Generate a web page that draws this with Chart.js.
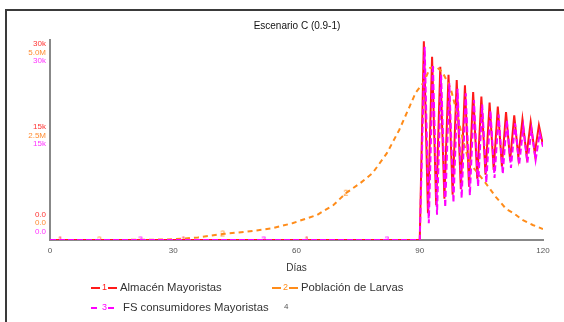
<!DOCTYPE html>
<html>
<head>
<meta charset="utf-8">
<script src="https://cdn.jsdelivr.net/npm/chart.js@4"></script>
<style>
  body { margin: 0; background: #fff; font-family: "Liberation Sans", Arial, sans-serif; }
  #wrap { position: relative; width: 564px; height: 322px; overflow: hidden; }
  #frame { position: absolute; left: 5px; top: 9px; width: 700px; height: 400px;
           border-left: 2px solid #3a3a3a; border-top: 2px solid #3a3a3a; }
  canvas { position: absolute; left: 0; top: 0; }
  #title { position: absolute; left: 197px; width: 200px; top: 20px; text-align: center;
           font-size: 10px; color: #111; }
  .leg { position: absolute; font-size: 11.3px; color: #333; white-space: nowrap; line-height: 14px; }
  .sym { display: inline-block; width: 26px; position: relative; height: 14px; vertical-align: top; margin-right: 3px; }
  .sym i { position: absolute; top: 7px; height: 0; width: 9px; }
  .sym b { position: absolute; left: 11px; top: 0; font-weight: normal; font-size: 9px; }
</style>
</head>
<body>
<div id="wrap">
  <div id="frame"></div>
  <canvas id="chart" width="564" height="322"></canvas>
  <div id="title">Escenario C (0.9-1)</div>
  <div class="leg" style="left:91px; top:280px;">
    <span class="sym"><i style="left:0;border-top:2px solid #ff1a1a"></i><b style="color:#ff1a1a">1</b><i style="left:17px;border-top:2px solid #ff1a1a"></i></span>Almacén Mayoristas</div>
  <div class="leg" style="left:272px; top:280px;">
    <span class="sym"><i style="left:0;border-top:2px dashed #ff8c1a"></i><b style="color:#ff8c1a">2</b><i style="left:17px;border-top:2px dashed #ff8c1a"></i></span>Población de Larvas</div>
  <div class="leg" style="left:91px; top:300px;">
    <span class="sym" style="margin-right:6px"><i style="left:0;width:6px;border-top:2px solid #ff00ff"></i><b style="color:#ff00ff">3</b><i style="left:17px;width:6px;border-top:2px solid #ff00ff"></i></span>FS consumidores Mayoristas</div>
  <div class="leg" style="left:284px; top:300px; font-size:8px; color:#555;">4</div>
</div>
<script>
// dias de simulacion y valores
const almacenDias = [0, 2.5, 32.5, 62.5, 90, 91, 92, 93, 94, 95, 96, 97, 98, 99, 100, 101, 102, 103, 104,
  105, 106, 107, 108, 109, 110, 111, 112, 113, 114, 115, 116, 117, 118, 119, 120];
const almacen = [0, 0, 0, 0, 0, 29800, 4000, 27500, 5200, 26000, 6200, 24800, 6800, 24000, 7600, 23200, 8000,
  22200, 9200, 21500, 9800, 20600, 10500, 20000, 11000, 19200, 11900, 18700, 12400, 18100, 12700, 17700,
  13000, 17200, 14200];

const larvasDias = [0, 12, 24, 30, 36, 42, 48, 54, 59, 65, 69, 72, 75.5, 78.5, 82, 85, 87.5, 89, 91, 92.5,
  94, 95.5, 97.5, 99, 100.5, 102, 103.5, 106, 108.5, 111, 113, 115, 117.5, 120];
const larvas = [0, 0, 5000, 17000, 65000, 150000, 210000, 290000, 420000, 625000, 875000, 1170000, 1420000,
  1670000, 2170000, 2750000, 3330000, 3680000, 3950000, 4300000, 4330000, 4200000, 3800000, 3200000,
  2500000, 1950000, 1750000, 1430000, 1080000, 780000, 660000, 500000, 375000, 275000];

const fsDias = [0, 22, 52, 82, 90, 91.2, 92.2, 93.2, 94.2, 95.2, 96.2, 97.2, 98.2, 99.2, 100.2, 101.2, 102.2,
  103.2, 104.2, 105.2, 106.2, 107.2, 108.2, 109.2, 110.2, 111.2, 112.2, 113.2, 114.2, 115.2, 116.2, 117.2,
  118.2, 119.2, 120];
const fsConsumidores = [0, 0, 0, 0, 0, 29000, 2500, 26300, 3800, 24800, 4900, 23500, 5600, 22700, 6300, 22000,
  6700, 21000, 8000, 20300, 8600, 19400, 9300, 18800, 9900, 18000, 10800, 17500, 11300, 16900, 11600, 16500,
  12000, 16000, 14000];

// dias donde Vensim pone el numero de la serie
const marcas1 = [2.5, 32.5, 62.5];
const marcas2 = [12, 42, 72, 102];
const marcas3 = [22, 52, 82];

const ticksAlmacen = ['0.0', '15k', '30k'];
const ticksLarvas = ['0.0', '2.5M', '5.0M'];
const ticksFS = ['0.0', '15k', '30k'];

const rojo = '#ff1a1a', naranja = '#ff8c1a', magenta = '#ff00ff';

function digito(d, color) {
    const c = document.createElement('canvas');
    c.width = 8; c.height = 11;
    const g = c.getContext('2d');
    g.fillStyle = color;
    g.font = '9px "Liberation Sans", Arial';
    g.textAlign = 'center';
    g.textBaseline = 'middle';
    g.fillText(d, 4, 5.5);
    return c;
}

function puntos(dias, vals) {
    return dias.map((d, i) => ({x: d, y: vals[i]}));
}

// apila las etiquetas de los tres ejes como en Vensim
function apilar(texto, off) {
    const lines = [];
    if (off >= 0) {
        const n = Math.round(2 * off + 1);
        for (let i = 0; i < n - 1; i++) lines.push('');
        lines.push(texto);
    } else {
        const n = Math.round(1 - 2 * off);
        lines.push(texto);
        for (let i = 0; i < n - 1; i++) lines.push('');
    }
    return lines;
}

function ejeY(k, max, labels, color, first) {
    return {
        type: 'linear',
        position: 'left',
        min: 0,
        max: max,
        grid: {display: false, drawTicks: false},
        border: {display: first, color: '#888', width: 2},
        ticks: {
            stepSize: max / 2,
            autoSkip: false,
            padding: 4,
            color: color,
            font: {size: 8, family: '"Liberation Sans", Arial', lineHeight: '8.5px'},
            callback: (v, i) => {
                const offs = [k - 3, k - 1.5, k + 0.5];
                return apilar(labels[i], offs[i]);
            }
        },
        afterFit: (s) => {
            s.width = first ? 50 : 0;
            s.paddingTop = 0;
            s.paddingBottom = 0;
        }
    };
}

// los tres ejes comparten la misma franja a la izquierda del area
const mismoBorde = {
    id: 'mismoBorde',
    afterLayout(chart) {
        const y = chart.scales.y;
        ['y2', 'y3'].forEach((id) => {
            const s = chart.scales[id];
            s.left = y.left;
            s.right = y.right;
            s.width = y.width;
        });
    }
};

const dig1 = digito('1', rojo), dig2 = digito('2', naranja), dig3 = digito('3', magenta);

new Chart(document.getElementById('chart'), {
    type: 'line',
    data: {
        datasets: [
            {
                label: 'Almacén Mayoristas',
                data: puntos(almacenDias, almacen),
                yAxisID: 'y',
                borderColor: rojo,
                borderWidth: 2,
                order: 3,
                pointStyle: dig1,
                pointRadius: (c) => marcas1.includes(almacenDias[c.index]) ? 3 : 0,
            },
            {
                label: 'Población de Larvas',
                data: puntos(larvasDias, larvas),
                yAxisID: 'y2',
                borderColor: naranja,
                borderWidth: 2,
                borderDash: [5, 4],
                order: 2,
                pointStyle: dig2,
                pointRadius: (c) => marcas2.includes(larvasDias[c.index]) ? 3 : 0,
            },
            {
                label: 'FS consumidores Mayoristas',
                data: puntos(fsDias, fsConsumidores),
                yAxisID: 'y3',
                borderColor: magenta,
                borderWidth: 2,
                borderDash: [6, 3],
                order: 1,
                pointStyle: dig3,
                pointRadius: (c) => marcas3.includes(fsDias[c.index]) ? 3 : 0,
            }
        ]
    },
    options: {
        responsive: false,
        animation: false,
        devicePixelRatio: 1,
        layout: {padding: {left: 0, right: 21, top: 40, bottom: 42}},
        plugins: {legend: {display: false}, tooltip: {enabled: false}},
        elements: {line: {tension: 0}},
        scales: {
            x: {
                type: 'linear',
                min: 0,
                max: 120,
                grid: {display: false, drawTicks: false},
                border: {color: '#888', width: 2},
                ticks: {stepSize: 30, padding: 6, color: '#555', font: {size: 8, family: '"Liberation Sans", Arial'}},
                title: {display: true, text: 'Días', color: '#333', padding: {top: 0, bottom: 6},
                        font: {size: 10, family: '"Liberation Sans", Arial'}},
                afterFit: (s) => {
                    s.height = 40;
                    s.paddingLeft = 0;
                    s.paddingRight = 0;
                }
            },
            y: ejeY(0, 30000, ticksAlmacen, '#ff3333', true),
            y2: ejeY(1, 5000000, ticksLarvas, '#ff8c33', false),
            y3: ejeY(2, 30000, ticksFS, '#ff33ff', false)
        }
    },
    plugins: [mismoBorde]
});
</script>
</body>
</html>
